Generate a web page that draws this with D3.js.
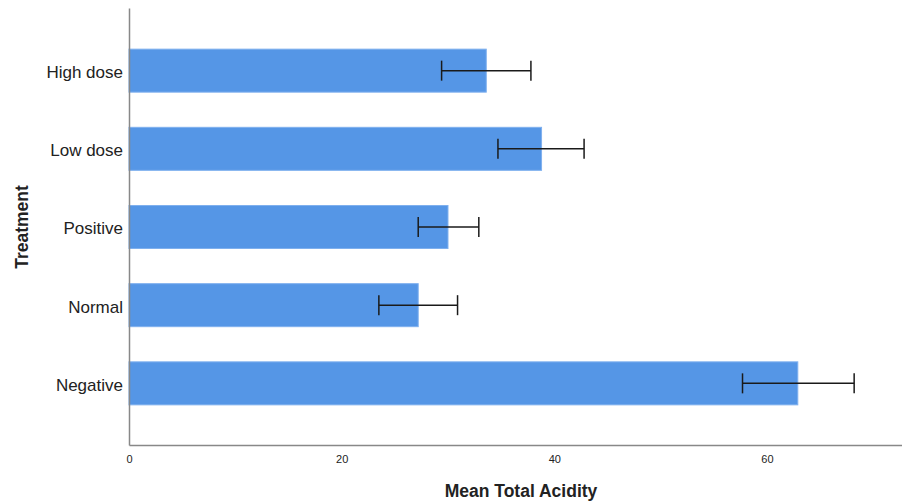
<!DOCTYPE html>
<html>
<head>
<meta charset="utf-8">
<script src="https://cdn.jsdelivr.net/npm/d3@7"></script>
<style>
  body { margin: 0; background: #fff; }
  svg { font-family: "Liberation Sans", Arial, sans-serif; }
</style>
</head>
<body>
<svg id="chart" width="902" height="502"></svg>
<script>
// Mean total acidity by treatment, with error bars
const categories = ['High dose', 'Low dose', 'Positive', 'Normal', 'Negative'];
const means = [33.6, 38.8, 30.0, 27.2, 62.9];
const errLow = [29.4, 34.7, 27.2, 23.5, 57.7];
const errHigh = [37.8, 42.8, 32.9, 30.9, 68.2];
const xTicks = [0, 20, 40, 60];

const data = categories.map((c, i) => ({
  cat: c, mean: means[i], lo: errLow[i], hi: errHigh[i],
}));

const margin = { top: 8, right: 0, bottom: 57, left: 129 };
const width = 902;
const height = 502;

const svg = d3.select('#chart');

const x = d3
  .scaleLinear()
  .domain([0, 72.7])
  .range([margin.left, width - margin.right]);

const y = d3
  .scaleBand()
  .domain(categories)
  .range([margin.top, height - margin.bottom])
  .paddingInner(0.45)
  .paddingOuter(0.52);

// bars
svg
  .selectAll('rect.bar')
  .data(data)
  .enter()
  .append('rect')
  .attr('class', 'bar')
  .attr('x', x(0))
  .attr('y', (d) => y(d.cat) + 0.5)
  .attr('width', (d) => x(d.mean) - x(0))
  .attr('height', y.bandwidth())
  .attr('fill', '#5596e6')
  .attr('stroke', '#7fb0ee')
  .attr('stroke-width', 1);

// error bars
const err = svg.append('g').attr('stroke', '#1a1a1a').attr('stroke-width', 1.5);
data.forEach((d) => {
  const cy = y(d.cat) + y.bandwidth() / 2 + 0.5;
  err.append('line')
    .attr('x1', x(d.lo)).attr('x2', x(d.hi))
    .attr('y1', cy).attr('y2', cy);
  [d.lo, d.hi].forEach((v) => {
    err.append('line')
      .attr('x1', x(v)).attr('x2', x(v))
      .attr('y1', cy - 10).attr('y2', cy + 10);
  });
});

// x axis
const xAxis = svg
  .append('g')
  .attr('transform', `translate(0, ${height - margin.bottom})`)
  .call(d3.axisBottom(x).tickValues(xTicks).tickSize(0).tickPadding(10));
xAxis.select('.domain').attr('stroke', '#888').attr('stroke-width', 1.5);
xAxis.selectAll('text')
  .style('font-size', '11px')
  .style('font-family', '"Liberation Sans", Arial, sans-serif')
  .attr('fill', '#222');

// y axis
const yAxis = svg
  .append('g')
  .attr('transform', `translate(${margin.left}, 0)`)
  .call(d3.axisLeft(y).tickSize(0).tickPadding(6));
yAxis.select('.domain').attr('stroke', '#888').attr('stroke-width', 1.5);
yAxis.selectAll('text')
  .attr('y', 2.5)
  .style('font-size', '17px')
  .style('font-family', '"Liberation Sans", Arial, sans-serif')
  .attr('fill', '#222');

// axis titles
svg
  .append('text')
  .attr('x', 521)
  .attr('y', 497)
  .attr('text-anchor', 'middle')
  .style('font-size', '17.5px')
  .style('font-weight', 'bold')
  .attr('fill', '#222')
  .text('Mean Total Acidity');

svg
  .append('text')
  .attr('transform', `translate(28, 227) rotate(-90)`)
  .attr('text-anchor', 'middle')
  .style('font-size', '17.5px')
  .style('font-weight', 'bold')
  .attr('fill', '#222')
  .text('Treatment');
</script>
</body>
</html>
